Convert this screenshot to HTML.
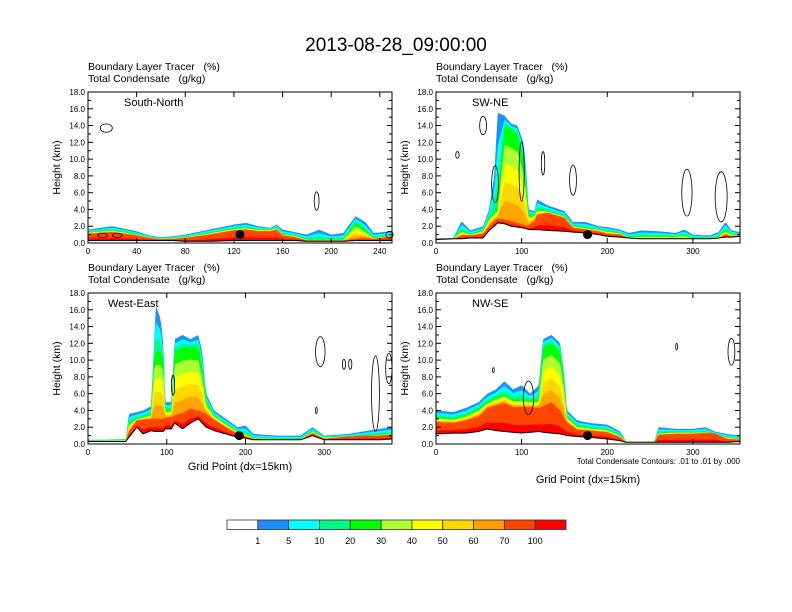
<!DOCTYPE html>
<html><head><meta charset="utf-8"><style>
body{margin:0;background:#fff;}
svg{display:block;font-family:"Liberation Sans",Arial,sans-serif;}
text{white-space:pre;}
</style></head><body>
<svg id="fig" width="792" height="612" viewBox="0 0 792 612">
<rect width="792" height="612" fill="#fff"/>
<text x="396" y="51" font-size="19" text-anchor="middle">2013-08-28_09:00:00</text>
<g id="panels"></g>
<g id="cbar"></g>
</svg>
<script>
const NS="http://www.w3.org/2000/svg";
const bandColors=["#1e90ff","#00ffff","#00fa8a","#00ff00","#adff2f","#ffff00","#ffd700","#ffa500","#ff4500","#ff0000"];
const cbarColors=["#ffffff","#1e8cff","#00ffff","#00fa82","#00ff00","#aeff2f","#ffff00","#ffd600","#ffa000","#ff4200","#ff0000"];
const cbarLabels=["1","5","10","20","30","40","50","60","70","100"];

// Panel 1: South-North
const p1X=[0,10,20,30,40,50,60,70,80,100,120,130,140,150,155,160,170,180,190,200,210,220,228,235,250];
const p1Top=[1.6,1.8,2.0,1.7,1.4,0.9,0.7,0.8,1.0,1.6,2.2,2.4,2.0,1.8,2.2,1.6,1.3,1.0,1.6,1.0,1.2,3.2,2.5,1.2,1.4];
const p1Mid=[1.3,1.4,1.5,1.3,1.0,0.7,0.5,0.6,0.7,1.2,1.7,1.8,1.6,1.6,1.8,1.0,0.9,0.4,0.4,0.4,0.4,2.4,1.5,0.6,0.9];
const p1Red=[1.1,1.2,1.3,1.1,0.9,0.6,0.45,0.5,0.6,1.0,1.5,1.6,1.4,1.4,1.6,0.9,0.7,0.3,0.3,0.3,0.3,0.5,0.6,0.5,0.8];
const p1Gnd=[0.3,0.3,0.3,0.3,0.3,0.3,0.3,0.3,0.2,0.2,0.3,0.3,0.3,0.3,0.3,0.3,0.3,0.2,0.2,0.2,0.2,0.3,0.3,0.3,0.3];
// Panel 2: SW-NE
const p2X=[0,20,30,40,55,62,68,72,80,88,95,102,106,108,115,118,130,150,160,175,190,200,215,225,240,260,280,290,300,320,330,338,345,355];
const p2Top=[0.6,0.6,2.6,1.5,2.0,4.0,8.0,15.5,15.2,14.2,14.0,12.0,8.0,4.0,3.8,5.2,4.5,3.8,2.5,2.5,2.0,1.9,1.6,1.2,1.5,1.4,1.2,1.6,1.0,0.9,1.3,2.5,1.5,1.3];
const p2Mid=[0.5,0.5,1.5,1.0,1.5,3.0,3.6,4.0,14.0,13.5,13.0,10.0,6.0,3.3,3.4,4.0,3.8,3.2,2.0,1.8,1.6,1.4,1.2,0.7,0.8,0.8,0.8,0.9,0.6,0.6,0.8,1.5,1.0,1.0];
const p2Red=[0.5,0.5,0.9,0.9,1.1,2.0,2.7,2.9,2.8,2.6,2.4,2.2,2.0,2.1,2.6,3.3,3.6,3.0,1.8,1.6,1.4,1.1,1.0,0.6,0.5,0.5,0.5,0.5,0.5,0.5,0.6,1.0,0.8,0.9];
const p2Gnd=[0.4,0.5,0.5,0.6,0.6,1.5,2.0,2.4,2.3,2.0,1.9,1.8,1.7,1.6,1.6,1.6,1.5,1.4,1.3,1.2,1.0,0.8,0.7,0.6,0.5,0.5,0.5,0.5,0.5,0.5,0.6,0.7,0.7,0.8];
// Panel 3: West-East
const p3X=[0,20,48,52,62,70,80,84,86,92,96,98,106,110,120,130,140,145,150,160,175,190,200,210,240,270,285,300,330,350,370,386];
const p3Top=[0.5,0.5,0.6,3.6,3.8,4.0,4.5,12.0,16.5,15.0,11.5,5.0,5.0,12.5,13.0,12.5,13.0,11.0,6.0,4.0,3.0,2.0,2.2,1.2,1.0,1.0,2.0,1.0,1.2,1.5,1.8,2.0];
const p3Mid=[0.4,0.4,0.5,2.5,3.0,3.2,3.5,10.5,11.0,11.0,10.0,4.0,4.0,11.0,11.5,11.5,11.5,9.0,5.0,3.4,2.4,1.5,1.2,0.7,0.6,0.6,1.5,0.8,0.9,1.0,1.1,1.2];
const p3Red=[0.3,0.3,0.3,1.5,2.8,2.9,3.0,3.0,3.0,3.0,3.0,3.2,3.2,3.4,3.7,4.2,4.0,3.8,3.6,2.9,2.0,1.2,0.9,0.6,0.5,0.5,1.3,0.6,0.9,1.0,1.0,1.1];
const p3Gnd=[0.3,0.3,0.3,0.8,2.0,1.2,1.6,1.5,1.5,1.5,1.5,1.8,1.8,2.5,1.8,2.5,3.0,2.5,2.0,1.6,1.2,0.8,0.7,0.5,0.5,0.5,1.0,0.5,0.5,0.5,0.5,0.6];
// Panel 4: NW-SE
const p4X=[0,20,35,50,60,70,80,90,100,110,120,125,135,145,150,153,165,180,200,215,222,255,260,280,300,315,325,340,355];
const p4Top=[4.0,3.8,4.3,5.0,6.0,6.5,7.5,6.5,7.0,6.0,7.0,12.5,13.0,12.0,8.0,4.0,2.8,2.5,2.3,1.5,0.3,0.3,2.0,1.8,1.8,2.0,1.5,1.2,1.0];
const p4Mid=[3.2,3.0,3.4,4.2,5.0,5.5,5.9,5.3,5.3,5.2,5.2,11.5,12.0,11.0,7.0,3.2,2.1,1.9,1.7,1.0,0.3,0.3,1.3,1.4,1.4,1.4,1.2,0.8,0.6];
const p4Red=[2.6,2.5,2.8,3.3,4.3,4.6,4.9,4.4,4.4,4.4,4.3,4.5,5.0,4.0,3.0,2.6,1.7,1.6,1.4,0.8,0.2,0.2,1.1,1.2,1.2,1.3,1.3,0.6,0.5];
const p4Gnd=[1.2,1.3,1.3,1.5,1.8,1.6,1.5,1.4,1.3,1.4,1.5,1.4,1.3,1.2,1.1,1.0,0.9,0.8,0.6,0.4,0.2,0.2,0.2,0.2,0.2,0.2,0.2,0.2,0.3];

const xTicks1=[0,40,80,120,160,200,240];
const xTicks2=[0,100,200,300];
const yTicks=[0,2,4,6,8,10,12,14,16,18];

const panels=[
 {name:"south-north",label:"South-North",x0:88,y0:92,w:304,h:151,xmax:250,X:p1X,T:p1Top,M:p1Mid,R:p1Red,G:p1Gnd,ticks:xTicks1,dot:125,xt:false,
  contours:[[15,13.7,5,0.5],[188,5.0,2,1.1],[248,1.0,3,0.4],[12,0.9,4,0.25],[24,0.9,4,0.25]]},
 {name:"sw-ne",label:"SW-NE",x0:436,y0:92,w:304,h:151,xmax:355,X:p2X,T:p2Top,M:p2Mid,R:p2Red,G:p2Gnd,ticks:xTicks2,dot:177,xt:false,
  contours:[[55,14.0,4,1.1],[25,10.5,2,0.4],[69,7.0,4,2.2],[125,9.5,2,1.4],[160,7.5,4,1.8],[293,6.0,6,2.8],[333,5.5,7,3.0],[100,8.5,3,3.5]]},
 {name:"west-east",label:"West-East",x0:88,y0:293,w:304,h:151,xmax:386,X:p3X,T:p3Top,M:p3Mid,R:p3Red,G:p3Gnd,ticks:xTicks2,dot:192,xt:true,
  contours:[[295,11.0,6,1.8],[325,9.5,2,0.6],[333,9.5,2,0.6],[365,6.0,5,4.5],[382,9.0,4,1.8],[108,7.0,2,1.2],[290,4.0,1,0.4]]},
 {name:"nw-se",label:"NW-SE",x0:436,y0:293,w:304,h:151,xmax:355,X:p4X,T:p4Top,M:p4Mid,R:p4Red,G:p4Gnd,ticks:xTicks2,dot:177,xt:true,
  contours:[[345,11.0,4,1.6],[67,8.8,1,0.3],[281,11.6,1,0.4],[108,5.5,6,2.0]]}
];

function interp(X,Y,x){
  if(x<=X[0])return Y[0];
  for(let i=1;i<X.length;i++){if(x<=X[i]){const t=(x-X[i-1])/(X[i]-X[i-1]);return Y[i-1]+t*(Y[i]-Y[i-1]);}}
  return Y[Y.length-1];
}
function el(tag,attrs,parent){const e=document.createElementNS(NS,tag);for(const k in attrs)e.setAttribute(k,attrs[k]);parent.appendChild(e);return e;}

const root=document.getElementById("panels");
panels.forEach(p=>{
  const g=el("g",{},root);
  
  
  const sx=v=>p.x0+v/p.xmax*p.w;
  const sy=v=>p.y0+p.h-v/18*p.h;
  const t1=el("text",{x:p.x0,y:p.y0-22,"font-size":"10.5"},g);t1.textContent="Boundary Layer Tracer   (%)";
  
  
  const t2=el("text",{x:p.x0,y:p.y0-10,"font-size":"10.5"},g);t2.textContent="Total Condensate   (g/kg)";
  
  
  const N=300, xs=[];
  for(let i=0;i<=N;i++)xs.push(p.xmax*i/N);
  const gnd=xs.map(x=>interp(p.X,p.G,x));
  const T=x=>interp(p.X,p.T,x),M=x=>interp(p.X,p.M,x),R=x=>interp(p.X,p.R,x),G=x=>interp(p.X,p.G,x);
  const levelFn=[
    T,
    x=>T(x)+(M(x)-T(x))*0.35,
    x=>T(x)+(M(x)-T(x))*0.7,
    M,
    x=>M(x)+(R(x)-M(x))*0.2,
    x=>M(x)+(R(x)-M(x))*0.4,
    x=>M(x)+(R(x)-M(x))*0.6,
    x=>M(x)+(R(x)-M(x))*0.8,
    R,
    x=>R(x)+(G(x)-R(x))*0.7
  ];
  levelFn.forEach((f,bi)=>{
    let d="";
    xs.forEach((x,i)=>{const h=Math.max(f(x),gnd[i]);d+=(i?"L":"M")+sx(x).toFixed(1)+","+sy(h).toFixed(1);});
    for(let i=N;i>=0;i--)d+="L"+sx(xs[i]).toFixed(1)+","+sy(gnd[i]).toFixed(1);
    const b=el("path",{d:d+"Z",fill:bandColors[bi]},g);
    
    
  });
  let dg="";xs.forEach((x,i)=>{dg+=(i?"L":"M")+sx(x).toFixed(1)+","+sy(gnd[i]).toFixed(1);});
  const tl=el("path",{d:dg,fill:"none",stroke:"#000","stroke-width":"1"},g);
  
  
  p.contours.forEach(c=>{
    const e=el("ellipse",{cx:sx(c[0]),cy:sy(c[1]),rx:c[2]/p.xmax*p.w,ry:c[3]/18*p.h,fill:"none",stroke:"#000","stroke-width":"0.8"},g);
    
    
  });
  const dot=el("circle",{cx:sx(p.dot),cy:sy(1.0),r:4.5,fill:"#000"},g);
  
  
  const fr=el("rect",{x:p.x0,y:p.y0,width:p.w,height:p.h,fill:"none",stroke:"#000","stroke-width":"1"},g);
  
  
  yTicks.forEach(v=>{
    const y=sy(v);
    el("line",{x1:p.x0,x2:p.x0+5,y1:y,y2:y,stroke:"#000"},g);
    el("line",{x1:p.x0+p.w,x2:p.x0+p.w-5,y1:y,y2:y,stroke:"#000"},g);
    const t=el("text",{x:p.x0-3,y:y+3,"font-size":"8","text-anchor":"end"},g);t.textContent=v.toFixed(1);
    
    
  });
  for(let v=1;v<18;v+=2){const y=sy(v);el("line",{x1:p.x0,x2:p.x0+3,y1:y,y2:y,stroke:"#000"},g);el("line",{x1:p.x0+p.w,x2:p.x0+p.w-3,y1:y,y2:y,stroke:"#000"},g);}
  p.ticks.forEach(v=>{
    const x=sx(v);
    el("line",{x1:x,x2:x,y1:p.y0+p.h,y2:p.y0+p.h-5,stroke:"#000"},g);
    el("line",{x1:x,x2:x,y1:p.y0,y2:p.y0+5,stroke:"#000"},g);
    const t=el("text",{x:x,y:p.y0+p.h+11,"font-size":"8","text-anchor":"middle"},g);t.textContent=v;
    
    
  });
  const yl=el("text",{x:0,y:0,"font-size":"10.5","text-anchor":"middle",transform:`translate(${p.x0-28},${p.y0+p.h/2}) rotate(-90)`},g);yl.textContent="Height (km)";
  
  
  const lb=el("text",{x:p.x0+(p.name==="west-east"?20:36),y:p.y0+14,"font-size":"11"},g);lb.textContent=p.label;
  
  
  if(p.xt){
    const xl=el("text",{x:p.x0+p.w/2,y:p.name==="nw-se"?483:470,"font-size":"11","text-anchor":"middle"},g);xl.textContent="Grid Point (dx=15km)";
    
    
  }
  if(p.name==="nw-se"){
    const ci=el("text",{x:p.x0+p.w,y:p.y0+p.h+20,"font-size":"8","text-anchor":"end"},g);ci.textContent="Total Condensate Contours: .01 to .01 by .000";
    
    
  }
});
const cb=document.getElementById("cbar");
const cbX=227,cbW=339,cbY=520,cbH=9.5,bw=cbW/cbarColors.length;
cbarColors.forEach((c,i)=>{
  const r=el("rect",{x:cbX+i*bw,y:cbY,width:bw,height:cbH,fill:c,stroke:"#333","stroke-width":"0.8"},cb);
  
  
});
cbarLabels.forEach((l,i)=>{
  const t=el("text",{x:cbX+(i+1)*bw,y:544,"font-size":"9","text-anchor":"middle"},cb);t.textContent=l;
  
  
});
</script>
</body></html>
